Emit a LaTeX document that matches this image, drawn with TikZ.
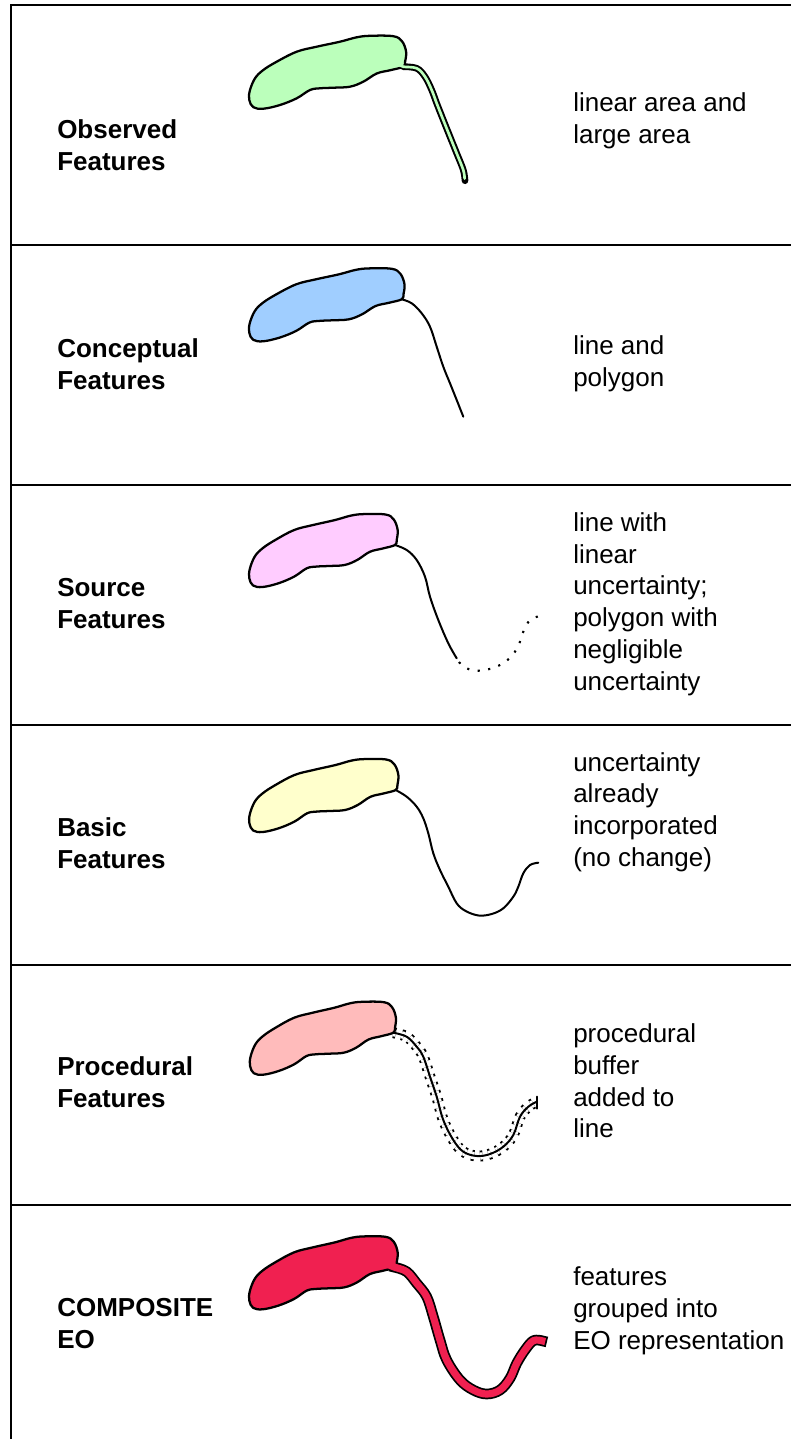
\documentclass[tikz,border=0pt]{standalone}
\usepackage{fontspec}
\setmainfont{Liberation Sans}
\definecolor{cgreen}{RGB}{187,255,187}
\definecolor{cblue}{RGB}{160,206,255}
\definecolor{cpink}{RGB}{255,204,255}
\definecolor{cyellow}{RGB}{255,255,204}
\definecolor{csalmon}{RGB}{255,187,187}
\definecolor{cred}{RGB}{240,32,80}
\tikzset{
  frameline/.style={line width=1.7pt, line join=miter},
  blobline/.style={line width=1.7pt, line join=round},
  curveline/.style={line width=1.5pt, line cap=round, line join=round},
  dotline/.style={line width=1.6pt, dash pattern=on 1.6pt off 6.4pt},
  lbl/.style={anchor=west, inner sep=0pt, align=left, font=\fontsize{19.5}{23.8}\selectfont\bfseries},
  desc/.style={anchor=west, inner sep=0pt, align=left, font=\fontsize{19.5}{23.8}\selectfont},
  blob/.pic={
    \path[pic actions] plot[smooth cycle, tension=0.6] coordinates {
      (0,0) (-13,3.5) (-26.6,6.8) (-40,15) (-53.3,20) (-70,21) (-83.3,21.6)
      (-93.3,23.3) (-106.6,31.6) (-123.3,38.3) (-140,42) (-150,40.5)
      (-154,33.3) (-153.5,24) (-148.3,11.6) (-140,3.3) (-126.6,-5)
      (-106.6,-15) (-86.6,-20) (-63.3,-25) (-46.6,-29.4) (-33.3,-30.9)
      (-10,-30.5) (-1.3,-25.5) (2.8,-15) (1.8,-5)};
  }
}
\begin{document}
\begin{tikzpicture}[x=0.75pt,y=-0.75pt]
\useasboundingbox (0,0) rectangle (791,1439);
% frame
\draw[frameline] (11,1439) -- (11,5) -- (791,5);
\foreach \yy in {245,485,725,965,1205}
  \draw[frameline] (11,\yy) -- (791,\yy);

% ---------- panel 1
\node[lbl] (l1) at (57,145.5) {Observed\\Features};
\node[desc] (d1) at (573,121) {linear area and\\large area};
\begin{scope}[shift={(403.3,66.7)}]
  \draw[line width=5pt, line cap=round, line join=round] plot[smooth, tension=0.6] coordinates {(0,0)(13.4,1.6)(21.7,10)(28.4,23.3)(33.4,36.6)(40,53.3)(46.7,70)(53.4,86.6)(60,103.3)(61.7,114)};
  \pic[draw=black, fill=cgreen, blobline] at (0,0) {blob};
  \draw[line width=2pt, cgreen, line cap=round, line join=round] plot[smooth, tension=0.6] coordinates {(-4,-2)(0,0)(13.4,1.6)(21.7,10)(28.4,23.3)(33.4,36.6)(40,53.3)(46.7,70)(53.4,86.6)(60,103.3)(61.3,112)};
\end{scope}

% ---------- panel 2
\node[lbl] (l2) at (57,364.5) {Conceptual\\Features};
\node[desc] (d2) at (573,364) {line and\\polygon};
\begin{scope}[shift={(401.7,299.3)}]
  \draw[curveline] plot[smooth, tension=0.6] coordinates {(0,0)(10,4)(20,14)(28.3,27.4)(35,47.4)(41.6,67.4)(48.3,84)(55,100.7)(61.6,117.4)};
  \pic[draw=black, fill=cblue, blobline, xscale=0.99] at (0,0) {blob};
\end{scope}

% ---------- panel 3
\node[lbl] (l3) at (57,603.5) {Source\\Features};
\node[desc] (d3) at (573,604) {line with\\linear\\uncertainty;\\polygon with\\negligible\\uncertainty};
\begin{scope}[shift={(395,545)}]
  \draw[curveline] plot[smooth, tension=0.6] coordinates {(0,0)(11.7,5)(21.7,15)(30,31.7)(35,51.7)(43.3,75)(53.3,98.3)(61.7,113.3)};
  \draw[dotline] plot[smooth, tension=0.6] coordinates {(64,117)(70,122.5)(80,125.7)(90,125)(101.7,121.7)(111.7,115.7)(120,106.7)(125,96.7)(128.3,86.7)(135,75)(145,71)};
  \pic[draw=black, fill=cpink, blobline, xscale=0.946] at (0,0) {blob};
\end{scope}

% ---------- panel 4
\node[lbl] (l4) at (57,843.5) {Basic\\Features};
\node[desc] (d4) at (573,812) {uncertainty\\already\\incorporated\\(no change)};
\begin{scope}[shift={(395.7,790)}]
  \draw[curveline] plot[smooth, tension=0.6] coordinates {(0,0)(11,6.7)(21,16.7)(27.6,28.3)(32.6,43.3)(37.6,63.3)(44.3,80)(52.6,96.7)(61,113.3)(70,121)(83,125.5)(96,124)(107.6,118.3)(117.6,106.7)(122.6,96.7)(127.6,83.3)(134.3,75)(142.6,72.7)};
  \pic[draw=black, fill=cyellow, blobline, xscale=0.95] at (0,0) {blob};
\end{scope}

% ---------- panel 5
\node[lbl] (l5) at (57,1082.5) {Procedural\\Features};
\node[desc] (d5) at (573,1081) {procedural\\buffer\\added to\\line};
\begin{scope}[shift={(393.3,1032.7)}]
  \draw[line width=1.4pt, double=white, double distance=5.4pt, dash pattern=on 2pt off 4.4pt] plot[smooth, tension=0.6] coordinates {(0,0)(13.4,4)(23.4,14)(30,24)(36.7,44)(43.4,64)(50,87.3)(60,107.3)(70,119)(83.4,123.3)(96.7,121.3)(110,114)(120,102.3)(126.7,84)(135,74)(143.4,69)};
  \draw[curveline] plot[smooth, tension=0.6] coordinates {(0,0)(13.4,4)(23.4,14)(30,24)(36.7,44)(43.4,64)(50,87.3)(60,107.3)(70,119)(83.4,123.3)(96.7,121.3)(110,114)(120,102.3)(126.7,84)(135,74)(143.4,69)};
  \draw[curveline] (143.4,64) -- (143.4,76);
  \pic[draw=black, fill=csalmon, blobline, xscale=0.93] at (0,0) {blob};
\end{scope}

% ---------- panel 6
\node[lbl] (l6) at (57,1323.5) {COMPOSITE\\EO};
\node[desc] (d6) at (573,1311) {features\\grouped into\\EO representation};
\begin{scope}[shift={(395,1267.3)}]
  \draw[line width=8pt, line cap=rect, line join=round] plot[smooth, tension=0.6] coordinates {(0,0)(11.7,4.4)(21.7,16)(31.7,29.4)(38.3,49.4)(45,72.7)(51.7,92.7)(65,112.7)(78.3,122.7)(91.7,126.7)(105,122.7)(115,111)(121.7,96)(130,82.7)(138.3,73.4)(146.7,73.4)};
  \pic[draw=black, fill=cred, blobline, xscale=0.946] at (0,0) {blob};
  \draw[line width=5.4pt, cred, line cap=rect, line join=round] plot[smooth, tension=0.6] coordinates {(-5,-2)(0,0)(11.7,4.4)(21.7,16)(31.7,29.4)(38.3,49.4)(45,72.7)(51.7,92.7)(65,112.7)(78.3,122.7)(91.7,126.7)(105,122.7)(115,111)(121.7,96)(130,82.7)(138.3,73.4)(146.7,73.4)};
\end{scope}
\end{tikzpicture}
\end{document}
